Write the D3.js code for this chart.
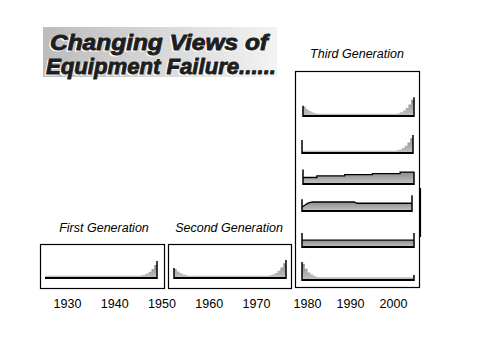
<!DOCTYPE html>
<html>
<head>
<meta charset="utf-8">
<script src="https://cdn.jsdelivr.net/npm/d3@7"></script>
<style>
    body { margin: 0; background: #fff; }
    svg { display: block; }
    text { font-family: "Liberation Sans", Arial, sans-serif; }
</style>
</head>
<body>
<svg id="chart" width="479" height="359"></svg>
<script>

// ---- data (relative failure rate, 1 = full panel height) ----
const titleLines = ["Changing Views of", "Equipment Failure......"];
const generations = ["First Generation", "Second Generation", "Third Generation"];
const years = [1930, 1940, 1950, 1960, 1970, 1980, 1990, 2000];

const firstGen = [
    0.12, 0.12, 0.12, 0.12, 0.12, 0.12, 0.12, 0.12, 0.12, 0.12,
    0.12, 0.12, 0.12, 0.12, 0.12, 0.12, 0.12, 0.12, 0.12, 0.12,
    0.12, 0.12, 0.12, 0.12, 0.12, 0.12, 0.12, 0.12, 0.12, 0.12,
    0.12, 0.12, 0.12, 0.12, 0.14, 0.18, 0.25, 0.35, 0.5, 0.72];
const secondGen = [
    0.5, 0.36, 0.26, 0.19, 0.15, 0.12, 0.12, 0.12, 0.12, 0.12,
    0.12, 0.12, 0.12, 0.12, 0.12, 0.12, 0.12, 0.12, 0.12, 0.12,
    0.12, 0.12, 0.12, 0.12, 0.12, 0.12, 0.12, 0.12, 0.12, 0.12,
    0.12, 0.12, 0.12, 0.12, 0.15, 0.2, 0.28, 0.4, 0.58, 0.82];
const thirdBathtub = [
    0.52, 0.38, 0.28, 0.2, 0.15, 0.13, 0.12, 0.12, 0.12, 0.12,
    0.12, 0.12, 0.12, 0.12, 0.12, 0.12, 0.12, 0.12, 0.12, 0.12,
    0.12, 0.12, 0.12, 0.12, 0.12, 0.12, 0.12, 0.12, 0.12, 0.12,
    0.12, 0.12, 0.12, 0.12, 0.15, 0.21, 0.3, 0.44, 0.64, 0.9];
const thirdWearOut = [
    0.12, 0.12, 0.12, 0.12, 0.12, 0.12, 0.12, 0.12, 0.12, 0.12,
    0.12, 0.12, 0.12, 0.12, 0.12, 0.12, 0.12, 0.12, 0.12, 0.12,
    0.12, 0.12, 0.12, 0.12, 0.12, 0.12, 0.12, 0.12, 0.12, 0.12,
    0.12, 0.12, 0.12, 0.12, 0.15, 0.2, 0.28, 0.4, 0.58, 0.82];
const thirdIncreasing = [
    0.36, 0.36, 0.36, 0.36, 0.36, 0.45, 0.45, 0.45, 0.45, 0.45,
    0.45, 0.45, 0.45, 0.45, 0.45, 0.52, 0.52, 0.52, 0.52, 0.52,
    0.52, 0.52, 0.52, 0.52, 0.52, 0.58, 0.58, 0.58, 0.58, 0.58,
    0.58, 0.58, 0.58, 0.58, 0.58, 0.66, 0.66, 0.66, 0.66, 0.66];
const thirdBreakIn = [
    0.22, 0.32, 0.42, 0.48, 0.5, 0.5, 0.5, 0.5, 0.5, 0.5,
    0.5, 0.5, 0.5, 0.5, 0.5, 0.5, 0.5, 0.5, 0.5, 0.5,
    0.43, 0.43, 0.43, 0.43, 0.43, 0.43, 0.43, 0.43, 0.43, 0.43,
    0.43, 0.43, 0.43, 0.43, 0.43, 0.43, 0.43, 0.43, 0.43, 0.43];
const thirdRandom = [
    0.38, 0.38, 0.38, 0.38, 0.38, 0.38, 0.38, 0.38, 0.38, 0.38,
    0.38, 0.38, 0.38, 0.38, 0.38, 0.38, 0.38, 0.38, 0.38, 0.38,
    0.38, 0.38, 0.38, 0.38, 0.38, 0.38, 0.38, 0.38, 0.38, 0.38,
    0.38, 0.38, 0.38, 0.38, 0.38, 0.38, 0.38, 0.38, 0.38, 0.38];
const thirdInfant = [
    0.9, 0.62, 0.42, 0.3, 0.22, 0.17, 0.15, 0.15, 0.15, 0.15,
    0.15, 0.15, 0.15, 0.15, 0.15, 0.15, 0.15, 0.15, 0.15, 0.15,
    0.15, 0.15, 0.15, 0.15, 0.15, 0.15, 0.15, 0.15, 0.15, 0.15,
    0.15, 0.15, 0.15, 0.15, 0.15, 0.15, 0.15, 0.15, 0.15, 0.15];

const curves = [firstGen, secondGen, thirdBathtub, thirdWearOut,
    thirdIncreasing, thirdBreakIn, thirdRandom, thirdInfant];
const leftEdges = [0, 0.55, 0.57, 0.72, 0.8, 0.65, 0.78, 1.0];
const rightEdges = [0.95, 1.0, 1.04, 1.0, 0.68, 0.88, 0.78, 0.28];

// ---- layout ----
const panelH = 18;
const layout = [
    {x0: 45, x1: 157, base: 278, outline: false, curve: d3.curveStepAfter},
    {x0: 174, x1: 286, base: 278, outline: false, curve: d3.curveStepAfter},
    {x0: 303, x1: 414, base: 116, outline: false, curve: d3.curveStepAfter},
    {x0: 302, x1: 413, base: 153, outline: false, curve: d3.curveStepAfter},
    {x0: 303, x1: 414, base: 184, outline: true, curve: d3.curveStepAfter},
    {x0: 302, x1: 412, base: 211, outline: true, curve: d3.curveLinear},
    {x0: 302, x1: 414, base: 247, outline: true, curve: d3.curveStepAfter},
    {x0: 302, x1: 414, base: 280, outline: false, curve: d3.curveStepAfter}
];
const boxes = [
    {x: 40, y: 244, w: 124, h: 44},
    {x: 168, y: 244, w: 123, h: 44},
    {x: 295, y: 71, w: 124, h: 216}
];
const labelPos = [[104, 232], [229, 232], [357, 58]];

const svg = d3.select("#chart");
const defs = svg.append("defs");

const titleGrad = defs.append("linearGradient").attr("id", "titleGrad")
    .attr("x1", 0).attr("y1", 0).attr("x2", 1).attr("y2", 0);
titleGrad.append("stop").attr("offset", 0).attr("stop-color", "#bcbcbc");
titleGrad.append("stop").attr("offset", 1).attr("stop-color", "#f3f3f3");

const fillGrad = defs.append("linearGradient").attr("id", "fillGrad")
    .attr("x1", 0).attr("y1", 0).attr("x2", 0).attr("y2", 1);
fillGrad.append("stop").attr("offset", 0).attr("stop-color", "#8c8c8c");
fillGrad.append("stop").attr("offset", 1).attr("stop-color", "#c4c4c4");

// title block
svg.append("rect")
    .attr("x", 43).attr("y", 27).attr("width", 234).attr("height", 50)
    .attr("fill", "url(#titleGrad)");

const titleG = svg.append("g")
    .style("font-family", "'DejaVu Sans', sans-serif")
    .style("font-weight", "bold")
    .style("font-style", "italic")
    .style("font-size", "22px");
const titleSpec = [{x: 50, y: 50, len: 218}, {x: 46, y: 74, len: 230}];
[["#fff", -1.3, 1.4], ["#1e1e1e", 0, 0]].forEach(([col, dx, dy]) => {
    titleG.selectAll(null)
        .data(titleLines)
        .join("text")
        .attr("x", (d, i) => titleSpec[i].x + dx)
        .attr("y", (d, i) => titleSpec[i].y + dy)
        .attr("textLength", (d, i) => titleSpec[i].len)
        .attr("lengthAdjust", "spacingAndGlyphs")
        .attr("fill", col)
        .attr("stroke", col)
        .attr("stroke-width", 0.9)
        .attr("stroke-linejoin", "round")
        .text(d => d);
});

// frames
svg.selectAll("rect.box")
    .data(boxes)
    .join("rect")
    .attr("class", "box")
    .attr("x", d => d.x + 0.5).attr("y", d => d.y + 0.5)
    .attr("width", d => d.w).attr("height", d => d.h)
    .attr("fill", "none").attr("stroke", "#000").attr("stroke-width", 1.2);

svg.append("line")
    .attr("x1", 420.5).attr("x2", 420.5).attr("y1", 188).attr("y2", 237)
    .attr("stroke", "#000").attr("stroke-width", 1.2);

// generation labels
svg.selectAll("text.gen")
    .data(generations)
    .join("text")
    .attr("class", "gen")
    .attr("x", (d, i) => labelPos[i][0])
    .attr("y", (d, i) => labelPos[i][1])
    .attr("text-anchor", "middle")
    .style("font-style", "italic")
    .style("font-size", "12.5px")
    .text(d => d);

// failure-rate panels
curves.forEach((vals, k) => {
    const L = layout[k];
    const n = vals.length;
    const x = d3.scaleLinear().domain([0, n]).range([L.x0, L.x1]);
    const y = d3.scaleLinear().domain([0, 1]).range([L.base, L.base - panelH]);
    const pts = vals.map((v, i) => [i, v]).concat([[n, vals[n - 1]]]);
    const g = svg.append("g");

    g.append("path")
        .datum(pts)
        .attr("fill", "url(#fillGrad)")
        .attr("d", d3.area().curve(L.curve)
            .x(d => x(d[0])).y0(y(0)).y1(d => y(d[1])));

    if (L.outline) {
        g.append("path")
            .datum(pts)
            .attr("fill", "none").attr("stroke", "#000").attr("stroke-width", 1.3)
            .attr("d", d3.line().curve(L.curve).x(d => x(d[0])).y(d => y(d[1])));
    }

    g.append("line")
        .attr("x1", x(0)).attr("x2", x(n)).attr("y1", y(0)).attr("y2", y(0))
        .attr("stroke", "#000").attr("stroke-width", 2);

    [[0, leftEdges[k]], [n, rightEdges[k]]].forEach(([t, v]) => {
        if (v <= 0) return;
        g.append("line")
            .attr("x1", x(t)).attr("x2", x(t))
            .attr("y1", y(0) + 1).attr("y2", y(v))
            .attr("stroke", "#000").attr("stroke-width", 1.5);
    });
});

// year axis
const yearScale = d3.scaleLinear()
    .domain([1930, 1970, 1980, 2000])
    .range([67, 256, 307, 393]);

const axis = svg.append("g")
    .attr("transform", "translate(0,296)")
    .call(d3.axisBottom(yearScale).tickValues(years)
        .tickFormat(d3.format("d")).tickSize(0).tickPadding(3));
axis.select(".domain").remove();
axis.selectAll("text")
    .attr("fill", "#000")
    .style("font-family", "'Liberation Sans', Arial, sans-serif")
    .style("font-size", "12.5px");

</script>
</body>
</html>
